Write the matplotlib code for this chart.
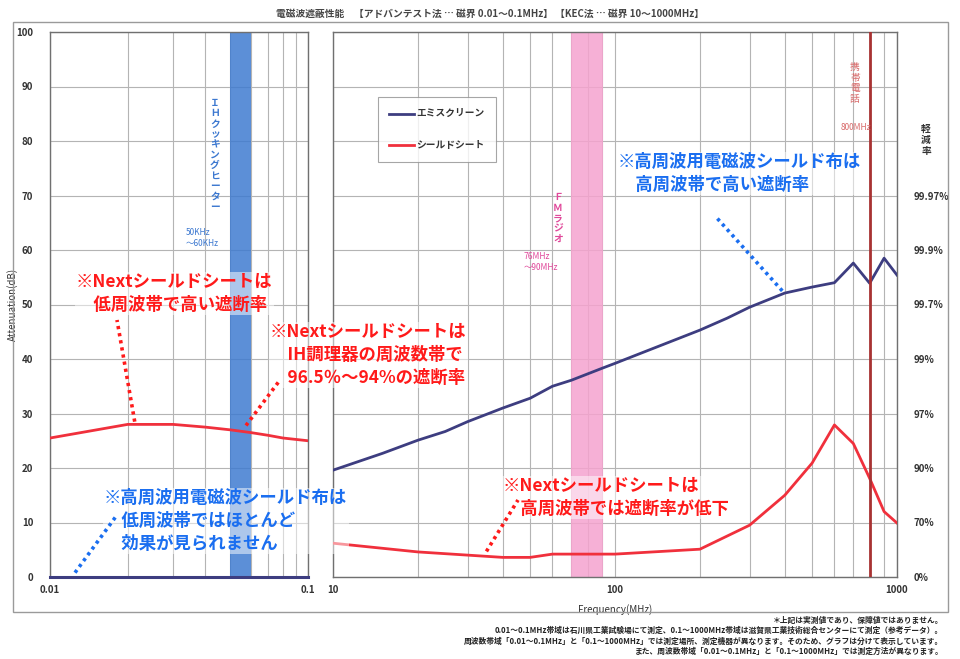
import matplotlib
matplotlib.use("Agg")
import matplotlib.pyplot as plt
from matplotlib.lines import Line2D
from matplotlib.ticker import FixedLocator, NullFormatter

plt.rcParams['font.family'] = ['Noto Sans CJK JP', 'DejaVu Sans']

# ---- data ----
low_freq = [0.01, 0.02, 0.03, 0.04, 0.05, 0.06, 0.07, 0.08, 0.1]          # MHz
low_sheet = [25.5, 28.0, 28.0, 27.5, 27.0, 26.5, 26.0, 25.5, 25.0]
low_emi = [0, 0, 0, 0, 0, 0, 0, 0, 0]

high_freq_emi = [10, 15, 20, 25, 30, 40, 50, 60, 70, 90, 100, 200, 250, 300,
                 400, 500, 600, 700, 800, 900, 1000]
high_emi = [19.6, 22.7, 25.1, 26.7, 28.5, 31.0, 32.8, 35.0, 36.1, 38.3, 39.2,
            45.3, 47.5, 49.5, 52.1, 53.2, 54.0, 57.6, 53.9, 58.5, 55.4]

high_freq_sheet = [10, 20, 40, 50, 60, 100, 200, 300, 400, 500, 600, 700,
                   800, 900, 1000]
high_sheet = [6.2, 4.6, 3.6, 3.6, 4.2, 4.2, 5.1, 9.5, 15.0, 20.9, 27.9, 24.5,
              18.1, 12.0, 9.9]

ih_band = (0.05, 0.06)
fm_band = (70, 91)
phone_freq = 800

db_ticks = [0, 10, 20, 30, 40, 50, 60, 70, 80, 90, 100]
rate_ticks = [0, 10, 20, 30, 40, 50, 60, 70]
rate_labels = ['0%', '70%', '90%', '97%', '99%', '99.7%', '99.9%', '99.97%']

NAVY = '#3d3d80'
RED = '#f0303c'
NOTE_RED = '#ff1a1a'
NOTE_BLUE = '#1a6ef0'
GRID = '#b4b4b4'
TXT = '#333333'

W, H = 960, 659
fig = plt.figure(figsize=(9.6, 6.59), dpi=100)


def fx(x):
    return x / W


def fy(y):
    return 1 - y / H


def style_axes(ax, minors):
    ax.set_xscale('log')
    ax.set_ylim(0, 100)
    ax.set_yticks(db_ticks)
    ax.xaxis.set_minor_locator(FixedLocator(minors))
    ax.xaxis.set_minor_formatter(NullFormatter())
    ax.grid(True, which='both', axis='x', color=GRID, lw=0.8)
    ax.grid(True, which='major', axis='y', color=GRID, lw=0.8)
    ax.set_axisbelow(True)
    ax.tick_params(which='both', length=0, labelsize=7, colors=TXT)
    for s in ax.spines.values():
        s.set_color('#707070')
        s.set_linewidth(1.0)


# ---- left panel ----
axl = fig.add_axes([fx(50), fy(577), fx(258), 545 / H])
style_axes(axl, [0.02, 0.03, 0.04, 0.05, 0.06, 0.07, 0.08, 0.09])
axl.set_xlim(0.01, 0.1)
axl.set_xticks([0.01, 0.1])
axl.set_xticklabels(['0.01', '0.1'], fontweight='bold')
for t in axl.get_yticklabels():
    t.set_fontweight('bold')
axl.tick_params(axis='y', pad=12)
axl.tick_params(axis='x', pad=6)
axl.axvspan(*ih_band, color='#3f7bd0', alpha=0.85, lw=0, zorder=1)
axl.plot(low_freq, low_emi, color=NAVY, lw=2.2, zorder=3, clip_on=False)
axl.plot(low_freq, low_sheet, color=RED, lw=2, zorder=3)
axl.set_ylabel('Attenuation(dB)', fontsize=7, color=TXT)
axl.yaxis.set_label_coords(-0.125, 0.5)

# ---- right panel ----
minors_r = [20, 30, 40, 50, 60, 70, 80, 90, 200, 300, 400, 500, 600, 700, 800, 900]
axr = fig.add_axes([fx(333), fy(577), fx(564), 545 / H])
style_axes(axr, minors_r)
axr.set_xlim(10, 1000)
axr.set_xticks([10, 100, 1000])
axr.set_xticklabels(['10', '100', '1000'], fontweight='bold')
axr.set_yticklabels([])
axr.tick_params(axis='x', pad=6)
axr.axvspan(*fm_band, color='#f5a3cf', alpha=0.85, lw=0, zorder=1)
axr.axvline(phone_freq, color='#a83232', lw=2, zorder=4)
l1, = axr.plot(high_freq_emi, high_emi, color=NAVY, lw=2, zorder=3, label='エミスクリーン')
l2, = axr.plot(high_freq_sheet, high_sheet, color=RED, lw=2, zorder=3, label='シールドシート')
axr.set_xlabel('Frequency(MHz)', fontsize=7, color=TXT, labelpad=6)

leg = axr.legend(handles=[l1, l2], loc='upper left', bbox_to_anchor=(0.079, 0.88),
                 fontsize=7, frameon=True, fancybox=False, edgecolor='#909090',
                 handlelength=2.5, labelspacing=2.2, borderpad=1.2,
                 handletextpad=0.3, borderaxespad=0)
leg.get_frame().set_linewidth(0.8)
for t in leg.get_texts():
    t.set_fontweight('bold')
    t.set_color(TXT)

axr2 = axr.twinx()
axr2.set_ylim(0, 100)
axr2.set_yticks(rate_ticks)
axr2.set_yticklabels(rate_labels, fontweight='bold')
axr2.tick_params(length=0, labelsize=7, colors=TXT, pad=12)
for s in axr2.spines.values():
    s.set_visible(False)

# ---- frame and titles ----
fig.add_artist(plt.Rectangle((fx(13), fy(612)), fx(935), (612 - 22) / H,
                             transform=fig.transFigure, fill=False,
                             ec='#9a9a9a', lw=1))
fig.text(fx(490), fy(14), '電磁波遮蔽性能　【アドバンテスト法 … 磁界 0.01～0.1MHz】 【KEC法 … 磁界 10～1000MHz】',
         ha='center', va='center', fontsize=7, color='#444444', fontweight='bold')
fig.text(fx(926), fy(140), '軽\n減\n率', ha='center', va='center', fontsize=7,
         color=TXT, fontweight='bold', linespacing=1.1)

notes = ['＊上記は実測値であり、保障値ではありません。',
         '0.01～0.1MHz帯域は石川県工業試験場にて測定、0.1～1000MHz帯域は滋賀県工業技術総合センターにて測定（参考データ）。',
         '周波数帯域「0.01～0.1MHz」と「0.1～1000MHz」では測定場所、測定機器が異なります。そのため、グラフは分けて表示しています。',
         'また、周波数帯域「0.01～0.1MHz」と「0.1～1000MHz」では測定方法が異なります。']
for i, n in enumerate(notes):
    fig.text(fx(943), fy(620 + i * 10.5), n, ha='right', va='center',
             fontsize=5.6, color='#222222', fontweight='bold')

# ---- band labels ----
fig.text(fx(215), fy(155), '\n'.join('ＩＨクッキングヒーター'), ha='center', va='center',
         fontsize=7, color='#3c78d0', linespacing=1.05, fontweight='bold')
fig.text(fx(186), fy(238), '50KHz\n～60KHz', ha='left', va='center',
         fontsize=6, color='#3c78d0', linespacing=1.2)
fig.text(fx(558), fy(218), '\n'.join('ＦＭラジオ'), ha='center', va='center',
         fontsize=7, color='#e0489a', linespacing=1.05, fontweight='bold')
fig.text(fx(524), fy(262), '76MHz\n～90MHz', ha='left', va='center',
         fontsize=6, color='#e0489a', linespacing=1.2)
fig.text(fx(855), fy(83), '\n'.join('携帯電話'), ha='center', va='center',
         fontsize=7, color='#d86a6a', linespacing=1.05)
fig.text(fx(856), fy(127), '800MHz', ha='center', va='center',
         fontsize=6, color='#d86a6a')

# ---- call-outs ----
box = dict(facecolor='white', alpha=0.5, edgecolor='none', pad=1)


def note(x, y, s, color):
    fig.text(fx(x), fy(y), s, ha='left', va='top', fontsize=12.5, color=color,
             fontweight='bold', linespacing=1.35, bbox=box, zorder=6)


def pointer(ax, xy, x, y, color):
    # dotted leader from a point in data coords to a point on the figure
    px, py = fig.transFigure.inverted().transform(ax.transData.transform(xy))
    fig.add_artist(Line2D([px, fx(x)], [py, fy(y)], transform=fig.transFigure,
                          color=color, lw=2.6, linestyle=(0, (0.9, 1.1)),
                          dash_capstyle='butt', zorder=7))


note(76, 273, '※Nextシールドシートは\n　低周波帯で高い遮断率', NOTE_RED)
note(270, 323, '※Nextシールドシートは\n　IH調理器の周波数帯で\n　96.5％～94%の遮断率', NOTE_RED)
note(104, 489, '※高周波用電磁波シールド布は\n　低周波帯ではほとんど\n　効果が見られません', NOTE_BLUE)
note(618, 153, '※高周波用電磁波シールド布は\n　高周波帯で高い遮断率', NOTE_BLUE)
note(503, 477, '※Nextシールドシートは\n　高周波帯では遮断率が低下', NOTE_RED)

pointer(axl, (0.0213, 28.5), 117, 320, NOTE_RED)
pointer(axl, (0.0575, 27.8), 280, 380, NOTE_RED)
pointer(axl, (0.0125, 0.8), 117, 515, NOTE_BLUE)
pointer(axr, (392, 52.5), 716, 217, NOTE_BLUE)
pointer(axr, (35, 4.7), 518, 500, NOTE_RED)

fig.savefig('out.png', dpi=100)
